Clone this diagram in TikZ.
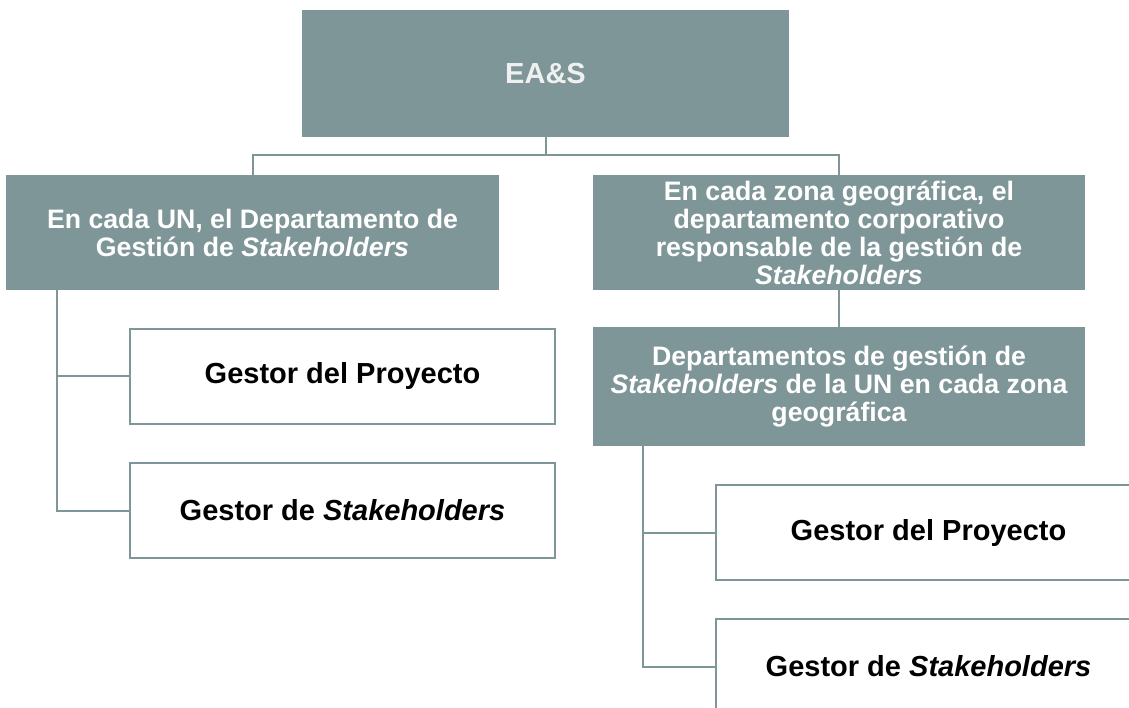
\documentclass[tikz,border=0pt]{standalone}
\usepackage{fontspec}
\setmainfont{Liberation Sans}
\usetikzlibrary{calc, positioning}
\definecolor{boxgray}{RGB}{127,150,152}
\tikzset{
  grayblock/.style={fill=boxgray, draw=none, text=white, align=center, inner sep=0pt,
    font=\bfseries\fontsize{26.7}{28}\selectfont},
  whiteblock/.style={fill=white, draw=boxgray, line width=2pt, align=center, inner sep=0pt,
    minimum width=425pt, minimum height=95pt, font=\bfseries\fontsize{29}{33}\selectfont},
  link/.style={draw=boxgray, line width=2pt},
}

\begin{document}
\begin{tikzpicture}[x=1pt, y=-1pt]
  \useasboundingbox (0,0) rectangle (1129,707);
  \clip (0,0) rectangle (1129,707);
  % top level
  \node[grayblock, minimum width=487pt, minimum height=127pt, text=gray!12,
    font=\bfseries\fontsize{29}{32}\selectfont] (eas) at (545.5,73.5) {EA\&S};
  % second level
  \node[grayblock, minimum width=493pt, minimum height=115pt] (un) at (252.5,232.5)
    {En cada UN, el Departamento de\\Gestión de \textit{Stakeholders}};
  \node[grayblock, minimum width=492pt, minimum height=115pt] (zona) at (839,232.5)
    {En cada zona geográfica, el\\departamento corporativo\\responsable de la gestión de\\\textit{Stakeholders}};
  \node[grayblock, minimum width=492pt, minimum height=119pt] (depto) at (839,386.5)
    {Departamentos de gestión de\\\textit{Stakeholders} de la UN en cada zona\\geográfica};
  % white boxes
  \node[whiteblock] (gp1) at (342.5,376) {Gestor del Proyecto};
  \node[whiteblock] (gs1) at (342.5,510.5) {Gestor de \textit{Stakeholders}};
  \node[whiteblock] (gp2) at (928.5,532.5) {Gestor del Proyecto};
  \node[whiteblock] (gs2) at (928.5,666.5) {Gestor de \textit{Stakeholders}};
  % connectors
  \coordinate (split) at ($(eas.south)+(0,18)$);
  \coordinate (ltrunk) at (57,0);
  \coordinate (rtrunk) at (643,0);
  \draw[link] (eas.south) -- (split) -| (un.north);
  \draw[link] (split) -| (zona.north);
  \draw[link] (zona) -- (depto);
  \draw[link] (un.south -| ltrunk) |- (gp1.west);
  \draw[link] (un.south -| ltrunk) |- (gs1.west);
  \draw[link] (depto.south -| rtrunk) |- (gp2.west);
  \draw[link] (depto.south -| rtrunk) |- (gs2.west);
\end{tikzpicture}
\end{document}
